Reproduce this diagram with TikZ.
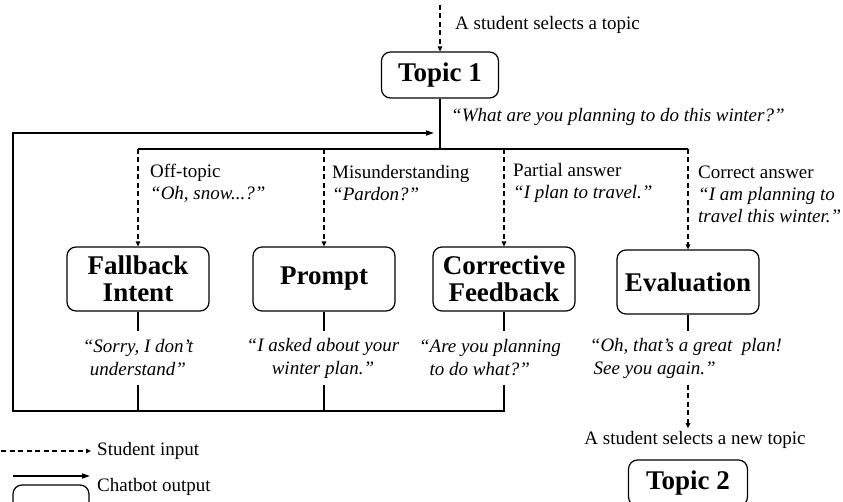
\documentclass[tikz,border=0pt]{standalone}
\usepackage{fontspec}
\setmainfont{Liberation Serif}
\usetikzlibrary{arrows.meta}
\usetikzlibrary{positioning}
\tikzset{
box/.style={ % rounded chatbot boxes
draw,
rounded corners=9pt,
line width=1.2pt,
align=center,
font=\fontsize{27}{27}\selectfont\bfseries},
intent/.style={box,
minimum width=142,
minimum height=64},
note/.style={inner sep=0pt, align=left,
font=\fontsize{19}{22}\selectfont},
saying/.style={note, font=\fontsize{19}{23}\selectfont\itshape},
input/.style={ % student input
draw,
line width=1.3pt,
dash pattern=on 5pt off 3.5pt,
-{Triangle[length=5pt,width=4.5pt]}},
output/.style={ % chatbot output
draw,
line width=1.6pt},
outarrow/.style={output,
-{Triangle[length=8pt,width=5pt]}}}

\begin{document}
\begin{tikzpicture}[x=1pt, y=1pt]
	\clip (0,0) rectangle (843,501);
	% topic and question
	\coordinate (start) at (440,496);
	\node[box, minimum width=117, minimum height=46] (t1) at (440,426) {Topic 1};
	\node[note, anchor=west] (sel) at (455,476) {A student selects a topic};
	\node[saying, anchor=west] (q0) at (451,384) {“What are you planning to do this winter?”};
	\coordinate (split) at (440,352);
	\coordinate (corner) at (13,90);
	\coordinate (back) at (434,368);
	% intents
	\node[intent] (fb) at (138,222) {Fallback\\Intent};
	\node[intent] (pr) at (324,222) {Prompt};
	\node[intent] (cf) at (504,222) {Corrective\\Feedback};
	\node[intent] (ev) at (688,219) {Evaluation};
	% student answers
	\node[note, anchor=west] (a1) at (150,318) {Off-topic\\\textit{“Oh, snow...?”}};
	\node[note, anchor=west] (a2) at (332,318) {Misunderstanding\\\textit{“Pardon?”}};
	\node[note, anchor=west] (a3) at (513,318) {Partial answer\\\textit{“I plan to travel.”}};
	\node[note, anchor=west] (a4) at (698,307) {Correct answer\\\textit{“I am planning to}\\\textit{travel this winter.”}};
	% chatbot replies
	\node[saying, align=center, minimum height=53] (fbq) at (138,143) {“Sorry, I don’t\\understand”};
	\node[saying, align=center, minimum height=53] (prq) at (323,143) {“I asked about your\\winter plan.”};
	\node[saying, minimum height=53] (cfq) at (490,143) {“Are you planning\\\hspace*{0.55em}to do what?”};
	\node[saying, minimum height=53] (evq) at (686,143) {“Oh, that’s a great\ \ plan!\\\hspace*{0.2em}See you again.”};
	\node[note, inner sep=3pt] (new) at (695,61) {A student selects a new topic};
	\node[box, minimum width=119, minimum height=46] (t2) at (688,18) {Topic 2};

	\draw[input] (start) -- (t1);
	\draw[output] (t1) -- (split);
	\draw[output] (fb |- split) -- (ev |- split);
	\foreach \n in {fb,pr,cf,ev}
		\draw[input] (\n |- split) -- (\n);
	\foreach \n in {fb,pr,cf}
		\draw[output] (\n) -- (\n |- \n q.north);
	\draw[output] (ev) -- (ev |- evq.north);
	\draw[output] (fb |- fbq.south) -- (fb |- corner);
	\draw[output] (pr |- prq.south) -- (pr |- corner);
	\draw[outarrow] (cf |- cfq.south) |- (corner) |- (back);
	\draw[input] (ev |- evq.south) -- (ev |- new.north);

	% legend
	\coordinate (k1) at (1,50);
	\node[note, anchor=west] (kin) at (97,50) {Student input};
	\draw[input] (k1) -- ([xshift=-6pt]kin.west);
	\coordinate (k2) at (13,25);
	\coordinate (k3) at (90,25);
	\draw[outarrow] (k2) -- (k3);
	\node[box, minimum width=76, minimum height=40] (kbox) at (51,-4) {};
	\node[note, anchor=west] (kout) at (97,14) {Chatbot output};
\end{tikzpicture}
\end{document}
